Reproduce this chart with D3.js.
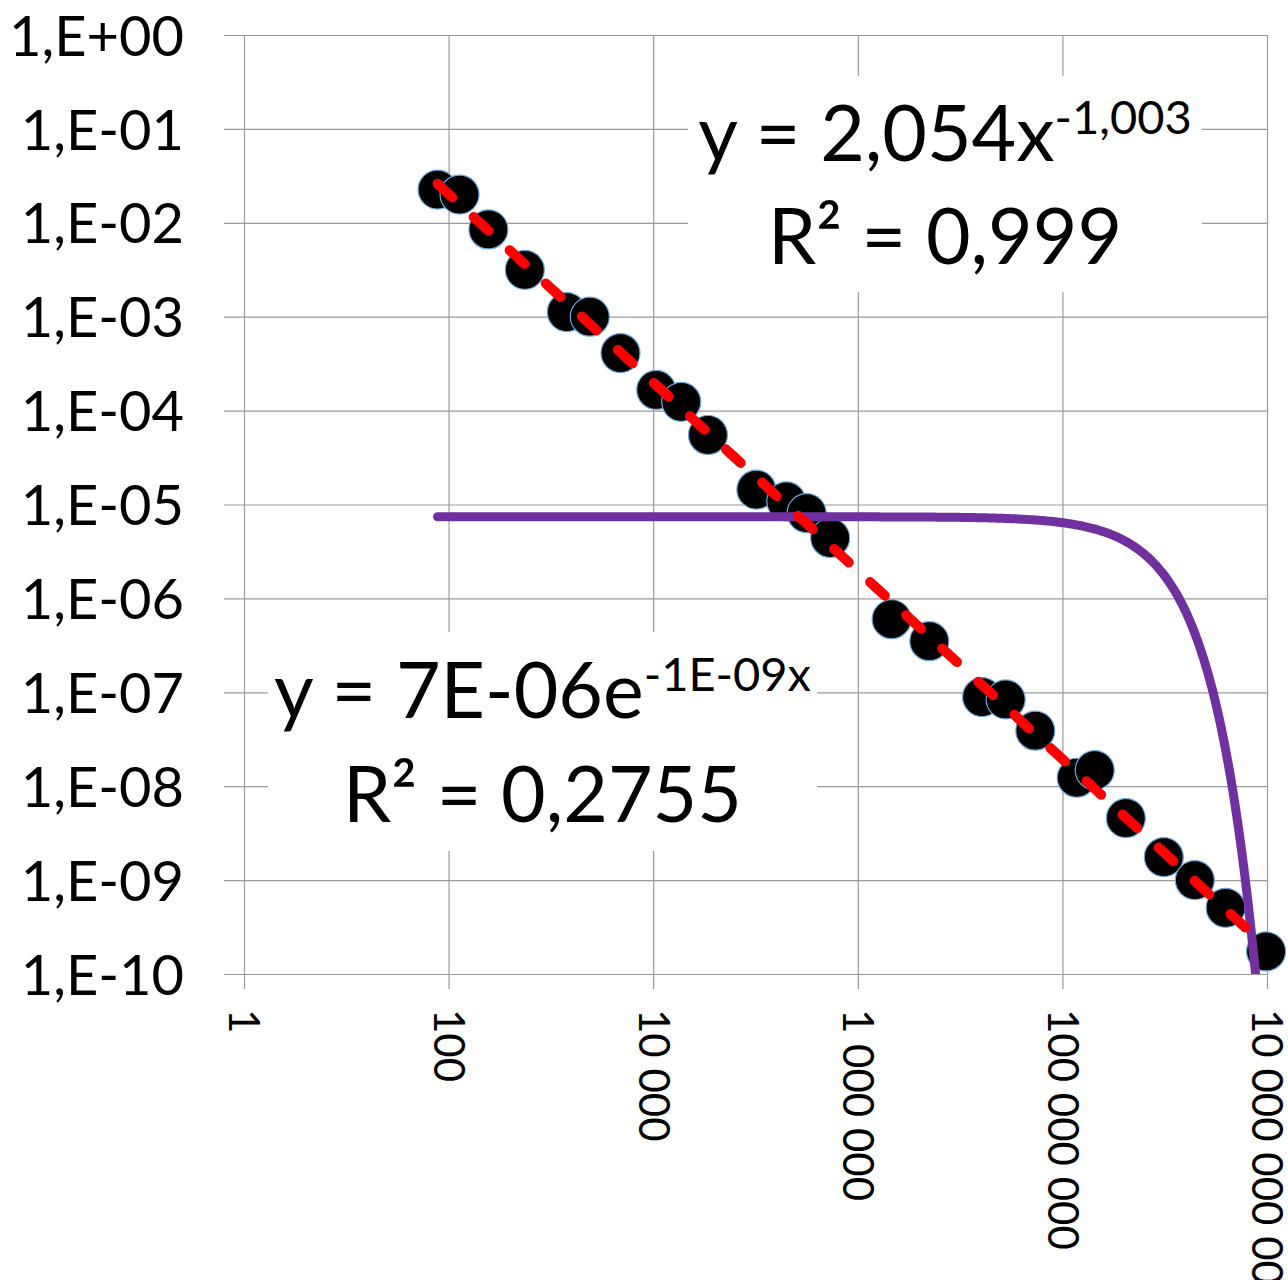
<!DOCTYPE html>
<html>
<head>
<meta charset="utf-8">
<script src="https://cdn.jsdelivr.net/npm/d3@7"></script>
<style>
  html, body { margin: 0; padding: 0; background: #fff; }
  svg { display: block; font-family: Lato, 'Open Sans', sans-serif; }
</style>
</head>
<body>
<svg id="chart" width="1288" height="1280"></svg>
<script>
// ── Data ──────────────────────────────────────────────────
const pointX = [78, 128, 245, 556, 1430, 2400, 4790, 10700, 18800, 34300,
  102000, 200000, 316000, 537000, 2.14e6, 5.0e6, 1.64e7, 2.79e7, 5.43e7,
  1.38e8, 2.07e8, 4.17e8, 9.8e8, 1.97e9, 3.94e9, 9.8e9];
const pointY = [2.26e-2, 2.0e-2, 8.5e-3, 3.16e-3, 1.12e-3, 1.0e-3, 4.1e-4,
  1.66e-4, 1.24e-4, 5.5e-5, 1.44e-5, 1.08e-5, 8.1e-6, 4.4e-6, 6.0e-7, 3.5e-7,
  8.9e-8, 8.4e-8, 3.9e-8, 1.23e-8, 1.48e-8, 4.57e-9, 1.76e-9, 1.0e-9,
  5.07e-10, 1.74e-10];

// trendline coefficients: power y = a*x^b, exponential y = a*e^(k*x)
const powerA = 2.054, powerB = -1.003;
const expA = 7.4e-6, expK = -1.45e-9;

const xTicks = [1, 1e2, 1e4, 1e6, 1e8, 1e10];
const xTickLabels = ['1', '100', '10 000', '1 000 000', '100 000 000', '10 000 000 000'];
const yTicks = [1, 1e-1, 1e-2, 1e-3, 1e-4, 1e-5, 1e-6, 1e-7, 1e-8, 1e-9, 1e-10];
const yTickLabels = ['1,E+00', '1,E-01', '1,E-02', '1,E-03', '1,E-04', '1,E-05',
  '1,E-06', '1,E-07', '1,E-08', '1,E-09', '1,E-10'];

const powerLabel = { main: 'y = 2,054x', sup: '-1,003', r2: 'R² = 0,999' };
const expLabel   = { main: 'y = 7E-06e', sup: '-1E-09x', r2: 'R² = 0,2755' };

// ── Layout ───────────────────────────────────────────────
const M = { left: 244, top: 35 };
const W = 1023, H = 939;
const GRID = '#9a9a9a';

const svg = d3.select('#chart');
const g = svg.append('g').attr('transform', `translate(${M.left},${M.top})`);

const x = d3.scaleLog().domain([1, 1e10]).range([0, W]);
const y = d3.scaleLog().domain([1e-10, 1]).range([H, 0]);

svg.append('defs').append('clipPath').attr('id', 'plot-clip')
  .append('rect').attr('x', 0).attr('y', 0).attr('width', W).attr('height', H);

// ── Axes + gridlines ─────────────────────────────────────
const yAxis = g.append('g')
  .call(d3.axisLeft(y).tickValues(yTicks)
    .tickFormat((d, i) => yTickLabels[i])
    .tickSize(20).tickPadding(40));
yAxis.select('.domain').remove();
yAxis.selectAll('.tick line').attr('x1', W).attr('stroke', GRID).attr('stroke-width', 1.2);
yAxis.selectAll('.tick text')
  .attr('font-size', 56).attr('fill', '#000')
  .attr('font-family', 'Lato, sans-serif')
  .attr('dy', '0.36em');

const xAxis = g.append('g').attr('transform', `translate(0,${H})`)
  .call(d3.axisBottom(x).tickValues(xTicks)
    .tickFormat((d, i) => xTickLabels[i])
    .tickSize(15));
xAxis.select('.domain').remove();
xAxis.selectAll('.tick line').attr('y1', -H).attr('stroke', GRID).attr('stroke-width', 1.2);
xAxis.selectAll('.tick text')
  .attr('font-size', 42).attr('fill', '#000')
  .attr('font-family', 'Lato, sans-serif')
  .attr('transform', 'rotate(90)')
  .attr('x', 35).attr('y', 0).attr('dy', '0.36em')
  .style('text-anchor', 'start');

// ── Trendline labels (white boxes hide the grid) ─────────
function trendLabel(box, lab, line1, line2) {
  const lg = svg.append('g');
  lg.append('rect')
    .attr('x', box[0]).attr('y', box[1])
    .attr('width', box[2]).attr('height', box[3])
    .attr('fill', '#fff');
  const cx = box[0] + box[2] / 2;
  const t1 = lg.append('text')
    .attr('x', cx).attr('y', line1)
    .attr('text-anchor', 'middle')
    .attr('font-size', 77).attr('fill', '#000');
  t1.append('tspan').text(lab.main);
  t1.append('tspan').attr('dy', -27).attr('font-size', 47).text(lab.sup);
  lg.append('text')
    .attr('x', cx).attr('y', line2)
    .attr('text-anchor', 'middle')
    .attr('font-size', 77).attr('fill', '#000')
    .text(lab.r2);
}
trendLabel([688, 76, 514, 216], powerLabel, 161, 264);
trendLabel([268, 632, 549, 219], expLabel, 718, 822);

// ── Markers ──────────────────────────────────────────────
const pts = pointX.map((v, i) => ({ x: v, y: pointY[i] }));
g.append('g').selectAll('circle')
  .data(pts)
  .join('circle')
  .attr('cx', d => x(d.x))
  .attr('cy', d => y(d.y))
  .attr('r', 19.5)
  .attr('fill', '#000')
  .attr('stroke', '#6fa8dc')
  .attr('stroke-width', 1.2);

// ── Trendlines ───────────────────────────────────────────
const lx0 = Math.log10(d3.min(pointX)), lx1 = Math.log10(d3.max(pointX));
const samples = d3.range(0, 401).map(i => 10 ** (lx0 + (lx1 - lx0) * i / 400));
const line = d3.line().x(d => x(d[0])).y(d => y(d[1]));

const trends = g.append('g').attr('clip-path', 'url(#plot-clip)');

trends.append('path')
  .datum(samples.map(v => [v, Math.max(expA * Math.exp(expK * v), 1e-11)]))
  .attr('d', line)
  .attr('fill', 'none')
  .attr('stroke', '#7030a0')
  .attr('stroke-width', 9)
  .attr('stroke-linecap', 'round');

trends.append('path')
  .datum(samples.map(v => [v, powerA * v ** powerB]))
  .attr('d', line)
  .attr('fill', 'none')
  .attr('stroke', '#ff0000')
  .attr('stroke-width', 10)
  .attr('stroke-linecap', 'round')
  .attr('stroke-dasharray', '20 29');
</script>
</body>
</html>
